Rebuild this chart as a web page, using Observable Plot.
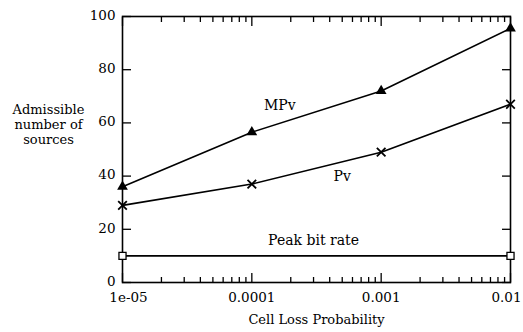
<!DOCTYPE html>
<html><head><meta charset="utf-8">
<script src="https://cdn.jsdelivr.net/npm/d3@7"></script>
<script src="https://cdn.jsdelivr.net/npm/@observablehq/plot@0.6"></script>
<style>body{margin:0;background:#fff}</style>
</head><body><div id="chart"></div>
<script>
const probs = [1e-5, 1e-4, 1e-3, 1e-2];
const mpv = [36, 56.5, 72, 95.5];
const pv = [29, 37, 49, 67];
const peakProbs = [1e-5, 1e-2];
const peak = [10, 10];
const yTicks = [0, 20, 40, 60, 80, 100];
const xTickLabels = ["1e-05", "0.0001", "0.001", "0.01"];
const minorTicks = [];
[1e-5, 1e-4, 1e-3].forEach(d => [2,3,4,5,6,7,8,9].forEach(m => minorTicks.push(d * m)));

const labelMap = new Map(probs.map((p, i) => [p, xTickLabels[i]]));
const rows = (xs, vals) => xs.map((p, i) => ({x: p, y: vals[i]}));
const font = "DejaVu Serif, serif";
const xLab = (ticks, dx) => Plot.axisX({ticks, anchor: "bottom", tickSize: 0, tickPadding: 10, dx, tickFormat: d => labelMap.get(d), label: null, fontSize: 13.5});

const chart = Plot.plot({
  width: 523, height: 332,
  marginLeft: 122, marginRight: 13, marginTop: 16, marginBottom: 50,
  style: {fontFamily: font, fontSize: "13.5px", color: "black", background: "white"},
  x: {type: "log", domain: [1e-5, 1e-2]},
  y: {domain: [0, 100]},
  marks: [
    Plot.frame({stroke: "black", strokeWidth: 1.6}),
    Plot.axisY({ticks: yTicks, anchor: "left", tickSize: 0, tickPadding: 7, dy: -1, label: null, fontSize: 13.5}),
    Plot.axisY({ticks: yTicks, anchor: "left", tickSize: -9, strokeWidth: 1.3, tickFormat: () => "", label: null}),
    Plot.axisY({ticks: yTicks, anchor: "right", tickSize: -9, strokeWidth: 1.3, tickFormat: () => "", label: null}),
    xLab([probs[0]], 6),
    xLab([probs[1], probs[2]], 0),
    xLab([probs[3]], -4),
    Plot.axisX({ticks: probs, anchor: "bottom", tickSize: -9, strokeWidth: 1.3, tickFormat: () => "", label: null}),
    Plot.axisX({ticks: minorTicks, anchor: "bottom", tickSize: -5, strokeWidth: 1.3, tickFormat: () => "", label: null}),
    Plot.axisX({ticks: probs, anchor: "top", tickSize: -9, strokeWidth: 1.3, tickFormat: () => "", label: null}),
    Plot.axisX({ticks: minorTicks, anchor: "top", tickSize: -5, strokeWidth: 1.3, tickFormat: () => "", label: null}),
    Plot.line(rows(probs, mpv), {x: "x", y: "y", stroke: "black", strokeWidth: 1.6}),
    Plot.line(rows(probs, pv), {x: "x", y: "y", stroke: "black", strokeWidth: 1.6}),
    Plot.line(rows(peakProbs, peak), {x: "x", y: "y", stroke: "black", strokeWidth: 1.6}),
    Plot.dot(rows(probs, mpv), {x: "x", y: "y", symbol: "triangle", fill: "black", r: 4}),
    Plot.dot(rows(probs, pv), {x: "x", y: "y", symbol: "times", stroke: "black", strokeWidth: 1.8, r: 4}),
    Plot.dot(rows(peakProbs, peak), {x: "x", y: "y", symbol: "square", stroke: "black", fill: "white", strokeWidth: 1.3, r: 4}),
    Plot.text([rows(probs, mpv)[1]], {x: "x", y: "y", text: () => "MPv", dx: 28, dy: -27, fontSize: 14}),
    Plot.text([rows(probs, pv)[2]], {x: "x", y: "y", text: () => "Pv", dx: -39, dy: 24, fontSize: 14}),
    Plot.text([{y: 10}], {y: "y", frameAnchor: "middle", text: () => "Peak bit rate", dx: -3, dy: -15, fontSize: 14}),
    Plot.text(["Admissible\nnumber of\nsources"], {frameAnchor: "left", text: d => d, textAnchor: "middle", dx: -74, dy: -25, lineHeight: 1.15, fontSize: 13}),
    Plot.text(["Cell Loss Probability"], {frameAnchor: "bottom", text: d => d, dy: 41, fontSize: 13})
  ]
});
document.getElementById("chart").appendChild(chart);
</script>
</body></html>
